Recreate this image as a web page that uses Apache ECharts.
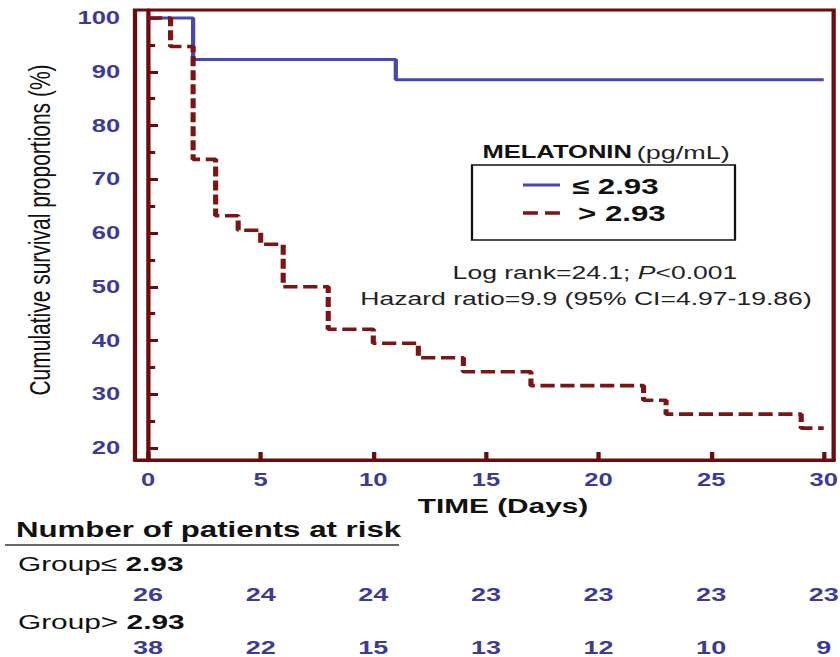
<!DOCTYPE html>
<html><head><meta charset="utf-8">
<script src="https://cdn.jsdelivr.net/npm/echarts@6/dist/echarts.min.js"></script>
<style>
html,body{margin:0;padding:0;background:#fff;overflow:hidden;width:840px;height:657px}
#c{height:657px;transform-origin:0 0}
</style>
</head><body><div id="c"></div>
<script>
// ---- data ----
const lowDays  = [0, 2, 11, 30];
const lowSurv  = [100, 92.3, 88.5, 88.5];
const highDays = [0, 1, 2, 3, 4, 5, 6, 8, 10, 12, 14, 17, 22, 23, 29, 30];
const highSurv = [100, 94.7, 73.7, 63.2, 60.5, 57.9, 50.0, 42.1, 39.5, 36.8, 34.2, 31.6, 28.9, 26.3, 23.7, 23.7];
const xTicks = [0, 5, 10, 15, 20, 25, 30];
const yTicks = [20, 30, 40, 50, 60, 70, 80, 90, 100];
const yMinorTicks = [25, 35, 45, 55, 65, 75, 85, 95];
const riskLow  = [26, 24, 24, 23, 23, 23, 23];
const riskHigh = [38, 22, 15, 13, 12, 10, 9];

// ---- layout (reference is horizontally stretched) ----
const S = 1.42;
const W = 840 / S;
const dom = document.getElementById('c');
dom.style.width = W + 'px';
dom.style.transform = 'scaleX(' + S + ')';
const X = v => v / S;

const AXIS = '#6b0b0b', BLUE = '#4646b4', RED = '#7d1313', LAB = '#3b3b9b';
const F = 'Liberation Sans, Arial, sans-serif';

const chart = echarts.init(dom, null, {renderer: 'svg'});
const gridLeft = X(135), gridRight = W - X(833);

function riskAxis(arr, off) {
  return {
    type: 'value', gridIndex: 0, position: 'bottom', offset: off,
    min: -0.58, max: 30.44,
    axisLine: {show: false}, axisTick: {show: false}, splitLine: {show: false},
    axisLabel: {customValues: xTicks, color: LAB, fontFamily: F, fontWeight: 'bold', fontSize: 19,
      lineHeight: 19, margin: 6, formatter: v => String(arr[xTicks.indexOf(v)])}
  };
}

chart.setOption({
  animation: false,
  grid: {left: gridLeft, right: gridRight, top: 10, bottom: 657 - 460, show: true,
         outerBoundsMode: 'none', containLabel: false,
         borderColor: AXIS, borderWidth: 3, backgroundColor: 'transparent'},
  xAxis: [
    {type: 'value', min: -0.58, max: 30.44,
     axisLine: {show: true, lineStyle: {color: AXIS, width: 3}},
     axisTick: {customValues: xTicks, inside: true, length: 8, lineStyle: {color: AXIS, width: 3}},
     axisLabel: {customValues: xTicks, color: LAB, fontFamily: F, fontWeight: 'bold', fontSize: 18, margin: 11},
     splitLine: {show: false}},
    riskAxis(riskLow, 119),
    riskAxis(riskHigh, 172)
  ],
  yAxis: [
    {type: 'value', min: 17.77, max: 101.49,
     axisLine: {show: true, lineStyle: {color: AXIS, width: 3}},
     axisTick: {customValues: yTicks, inside: true, length: 7, lineStyle: {color: AXIS, width: 3}},
     axisLabel: {customValues: yTicks, color: LAB, fontFamily: F, fontWeight: 'bold', fontSize: 18, margin: 10.5},
     splitLine: {show: false}},
    {type: 'value', min: 17.77, max: 101.49, position: 'left',
     axisLine: {show: false},
     axisTick: {customValues: yMinorTicks, inside: true, length: 5, lineStyle: {color: AXIS, width: 3}},
     axisLabel: {show: false}, splitLine: {show: false}}
  ],
  series: [
    {name: '≤ 2.93', type: 'line', step: 'end', symbol: 'none', z: 3,
     data: lowDays.map((d, i) => [d, lowSurv[i]]),
     lineStyle: {color: BLUE, width: 3}},
    {name: '> 2.93', type: 'line', step: 'end', symbol: 'none', z: 4,
     data: highDays.map((d, i) => [d, highSurv[i]]),
     lineStyle: {color: RED, width: 3.6, type: [10, 4]}}
  ],
  graphic: [
    {type: 'text', x: X(40), y: 230, rotation: Math.PI / 2,
     style: {text: 'Cumulative survival proportions (%)', font: '21px ' + F, fill: '#111',
             align: 'center', verticalAlign: 'middle'}},
    {type: 'text', x: X(606), y: 152,
     style: {text: '{b|MELATONIN} {n|(pg/mL)}', align: 'center', verticalAlign: 'middle',
             rich: {b: {font: 'bold 18px ' + F, fill: '#111'}, n: {font: '19px ' + F, fill: '#222'}}}},
    {type: 'rect', shape: {x: X(472), y: 165, width: X(735) - X(472), height: 75},
     style: {fill: 'none', stroke: '#111', lineWidth: 1.6}},
    {type: 'line', shape: {x1: X(523), y1: 185, x2: X(560), y2: 185}, style: {stroke: BLUE, lineWidth: 3}},
    {type: 'line', shape: {x1: X(523), y1: 213, x2: X(560), y2: 213}, style: {stroke: RED, lineWidth: 3.6, lineDash: [10.5, 5]}},
    {type: 'text', x: X(572), y: 187,
     style: {text: '≤ 2.93', font: 'bold 22px ' + F, fill: '#111', align: 'left', verticalAlign: 'middle'}},
    {type: 'text', x: X(578), y: 214,
     style: {text: '> 2.93', font: 'bold 22px ' + F, fill: '#111', align: 'left', verticalAlign: 'middle'}},
    {type: 'text', x: X(595), y: 272,
     style: {text: '{a|Log rank=24.1; }{i|P}{a|<0.001}', align: 'center', verticalAlign: 'middle',
             rich: {a: {font: '18.7px ' + F, fill: '#222'}, i: {font: 'italic 18.7px ' + F, fill: '#222'}}}},
    {type: 'text', x: X(586), y: 298,
     style: {text: 'Hazard ratio=9.9 (95% CI=4.97-19.86)', font: '18.7px ' + F, fill: '#222',
             align: 'center', verticalAlign: 'middle'}},
    {type: 'text', x: X(503), y: 506,
     style: {text: 'TIME (Days)', font: 'bold 21px ' + F, fill: '#111', align: 'center', verticalAlign: 'middle'}},
    {type: 'text', x: X(16), y: 530,
     style: {text: 'Number of patients at risk', font: 'bold 22px ' + F, fill: '#111', align: 'left', verticalAlign: 'middle'}},
    {type: 'line', shape: {x1: X(5), y1: 545, x2: X(399), y2: 545}, style: {stroke: '#333', lineWidth: 1.6}},
    {type: 'text', x: X(18), y: 564,
     style: {text: '{n|Group}{s|≤}{b| 2.93}', align: 'left', verticalAlign: 'middle',
             rich: {n: {font: '21px ' + F, fill: '#111'}, s: {font: '21px ' + F, fill: '#111'},
                    b: {font: 'bold 21px ' + F, fill: '#111'}}}},
    {type: 'text', x: X(18), y: 622,
     style: {text: '{n|Group}{s|>}{b| 2.93}', align: 'left', verticalAlign: 'middle',
             rich: {n: {font: '21px ' + F, fill: '#111'}, s: {font: '21px ' + F, fill: '#111'},
                    b: {font: 'bold 21px ' + F, fill: '#111'}}}}
  ]
});
</script>
</body></html>
